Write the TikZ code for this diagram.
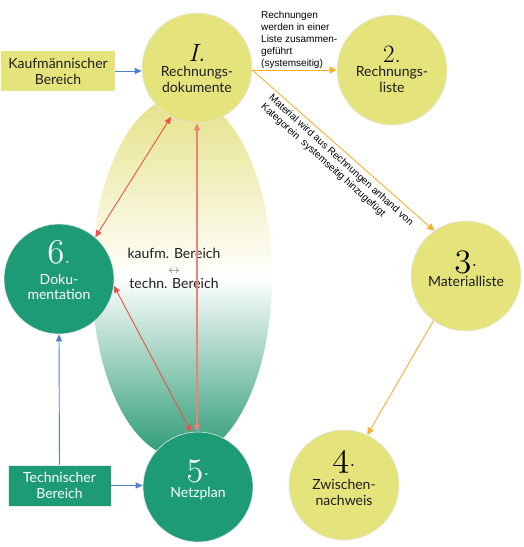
\documentclass[tikz,border=0pt]{standalone}
\usepackage{fontspec}
\newfontfamily\lato{Lato}
\newfontfamily\arial{Liberation Sans}
\usetikzlibrary{arrows.meta,calc,shapes.geometric}
\definecolor{cyel}{HTML}{E5E47C}
\definecolor{cgrn}{HTML}{1D9B74}
\definecolor{ctop}{HTML}{E4E286}
\definecolor{cbot}{HTML}{2A9A72}
\definecolor{corg}{HTML}{F5B030}
\definecolor{cblu}{HTML}{4F7FC5}
\definecolor{cred}{HTML}{E9524A}
\definecolor{csal}{HTML}{EE8276}
\definecolor{ctxt}{HTML}{1E1E1E}
\newcommand\osn[1]{\scalebox{1.4}{$\mathnormal{#1}$}}
\begin{document}
\begin{tikzpicture}[x=1pt,y=-1pt,
  ycirc/.style={circle, fill=cyel, draw=black!10, line width=0.6pt, minimum size=110pt, inner sep=0pt},
  gcirc/.style={circle, fill=cgrn, draw=black!10, line width=0.6pt, minimum size=110pt, inner sep=0pt},
  ybox/.style={rectangle, fill=cyel, draw=none, inner sep=0pt, align=center, text=ctxt, font=\lato\fontsize{14}{16}\selectfont},
  gbox/.style={rectangle, fill=cgrn, draw=black!8, inner sep=0pt, align=center, text=white, font=\lato\fontsize{14}{16}\selectfont},
  lbl/.style={inner sep=0pt, align=center, font=\lato\fontsize{14}{16}\selectfont},
  numit/.style={inner sep=0pt, font=\fontsize{25}{25}\selectfont},
  numos/.style={inner sep=0pt, font=\fontsize{24.88}{25}\selectfont},
  note/.style={inner sep=0pt, align=left, font=\arial\fontsize{10}{12}\selectfont},
  oarr/.style={draw=corg, line width=0.9pt, -{Triangle[length=7pt,width=7pt]}},
  barr/.style={draw=cblu, line width=0.9pt, -{Triangle[length=7pt,width=6pt]}},
  rarr/.style={draw=cred, line width=0.9pt, {Triangle[length=7pt,width=6pt]}-{Triangle[length=7pt,width=6pt]}}
]
\useasboundingbox (0,0) rectangle (524,547);
% gradient ellipse
\node[ellipse, minimum width=180pt, minimum height=362pt, inner sep=0pt, draw=none,
      top color=ctop, bottom color=cbot, middle color=white] (ell) at (182,277) {};
% circles
\node[ycirc] (c1) at (197,68) {};
\node[ycirc] (c2) at (392,70) {};
\node[ycirc] (c3) at (466,276) {};
\node[ycirc] (c4) at (344,485) {};
\node[gcirc] (c5) at (198,487) {};
\node[gcirc] (c6) at (59,279) {};
% boxes
\node[ybox, minimum width=114pt, minimum height=40pt] (kb) at (58,71) {Kaufmännischer\\Bereich};
\node[gbox, minimum width=103pt, minimum height=41pt] (tb) at (59.5,485.5) {Technischer\\Bereich};
% circle contents
\node[numit] (n1) at ($(c1)+(0,-15)$) {\itshape I.};
\node[lbl, text=ctxt] (t1) at ($(c1)+(0,11)$) {Rechnungs-\\dokumente};
\node[numit] (n2) at ($(c2)+(0,-16)$) {2.};
\node[lbl, text=ctxt] (t2) at ($(c2)+(0,9.8)$) {Rechnungs-\\liste};
\node[numos] (n3) at ($(c3)+(0,-14)$) {\osn{3}.};
\node[lbl, text=ctxt] (t3) at ($(c3)+(0,5.5)$) {Materialliste};
\node[numos] (n4) at ($(c4)+(0,-23)$) {\osn{4}.};
\node[lbl, text=ctxt] (t4) at ($(c4)+(0,7.5)$) {Zwischen-\\nachweis};
\node[numos, text=white] (n5) at ($(c5)+(0,-16)$) {\osn{5}.};
\node[lbl, text=white] (t5) at ($(c5)+(0,6.5)$) {Netzplan};
\node[numos, text=white] (n6) at ($(c6)+(0,-27)$) {\osn{6}.};
\node[lbl, text=white, font=\lato\fontsize{14}{15.5}\selectfont] (t6) at ($(c6)+(0,8)$) {Doku-\\mentation};
% center label
\node[inner sep=0pt, align=center, text=ctxt, font=\lato\fontsize{14}{15}\selectfont] (mid) at (174,268)
  {kaufm. Bereich\\{\fontsize{11}{11}\selectfont\color{black!70}$\leftrightarrow$}\\techn. Bereich};
% top annotation
\node[note, anchor=north west] (ann) at (261,11) {Rechnungen\\werden in einer\\Liste zusammen-\\geführt\\(systemseitig)};
% diagonal annotation
\node[note, rotate=-42] (dia) at (337,165) {Material wird aus Rechnungen anhand von\\Kategorein\ \ systemseitig hinzugefügt};
% connectors
\draw[barr] (kb.east) -- (kb.east -| c1.west);
\draw[barr] (tb.east) -- (tb.east -| c5.west);
\draw[barr] (tb.north) -- (c6.south);
\draw[oarr] (c1.east |- c2.west) -- (c2.west);
\draw[oarr] (c1.east |- c2.west) -- (c3.125);
\draw[oarr] (c3.234) -- (c4.65);
\draw[rarr] (c1.242) -- (c6.49);
\draw[rarr, draw=csal, line width=1.1pt] (c1.south) -- (c1.south |- c5.north);
\draw[rarr] (c6.-7) -- (c5.97);
\end{tikzpicture}
\end{document}
